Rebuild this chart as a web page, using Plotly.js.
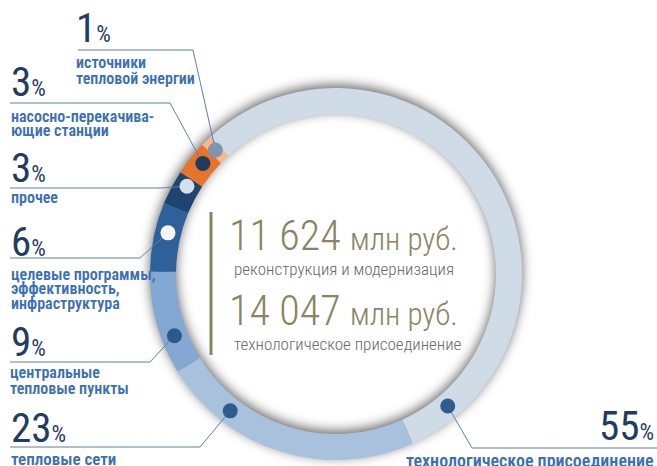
<!DOCTYPE html>
<html>
<head>
<meta charset="utf-8">
<script src="https://cdn.plot.ly/plotly-3.0.1.min.js"></script>
<style>
  html, body { margin: 0; padding: 0; background: #fff; }
  #chart { width: 657px; height: 466px; }
  .pielayer .trace { filter: drop-shadow(0px -3px 6px rgba(0,0,0,0.6)); }
  svg text, svg tspan { font-stretch: 75%; }
</style>
</head>
<body>
<div id="chart"></div>
<script>
// ---- data ----
const categories = [
  'технологическое присоединение',
  'тепловые сети',
  'центральные тепловые пункты',
  'целевые программы, эффективность, инфраструктура',
  'прочее',
  'насосно-перекачивающие станции',
  'источники тепловой энергии'
];
const shares = [55, 23, 9, 6, 3, 3, 1];
const labelLines = [
  ['технологическое присоединение'],
  ['тепловые сети'],
  ['центральные', 'тепловые пункты'],
  ['целевые программы,', 'эффективность,', 'инфраструктура'],
  ['прочее'],
  ['насосно-перекачива-', 'ющие станции'],
  ['источники', 'тепловой энергии']
];
const totalValues = ['11 624', '14 047'];
const totalUnit = 'млн руб.';
const totalLabels = ['реконструкция и модернизация', 'технологическое присоединение'];

// ---- styles / layout ----
const W = 657, H = 466;
const FONT = 'Roboto, "Open Sans", sans-serif';
const sliceColors = ['#cfdce8', '#a8c1dc', '#82a8d3', '#2e6199', '#1e4471', '#e8732a', '#f6b88c'];
const dotColors   = ['#2f5c8c', '#2f5c8c', '#2c598a', '#f4f6f9', '#d3dfea', '#1f3b60', '#7d96b1'];
const dotFrac     = [0.92, 0.75, 0.33, 0.6, 0.75, 0.6, 0.5];
const rotation = -42.4;
const hole = 0.86;
const dom = {x: [150 / W, 522 / W], y: [1 - 460 / H, 1 - 88 / H]};

// label placement (pixel space)
const numPos = [ // x, cap-centre y, anchor
  [655, 426, 'right'], [10, 427.5, 'left'], [10, 341.5, 'left'], [10, 242, 'left'],
  [10, 167.5, 'left'], [10, 82.5, 'left'], [75, 28, 'left']
];
const linePos = [ // x, first line centre y, line step, font size
  [655, 460.5, 15, 18], [10, 458.5, 15, 17], [9, 372, 16, 16], [10, 274, 14.7, 16],
  [10, 198, 15, 16], [10, 116, 14.5, 16], [75, 62, 16, 16]
];
const elbows = [ // start point, elbow point
  [[657, 448], [472, 448]], [[10, 447], [200, 447]], [[10, 362], [150, 362]],
  [[10, 258], [140, 258]], [[10, 188], [160, 188]], [[10, 103], [170, 103]],
  [[78, 50], [193, 50]]
];

const px = x => x / W, py = y => 1 - y / H;

// geometry derived from pie domain
const cx = (dom.x[0] + dom.x[1]) / 2 * W;
const cy = (1 - (dom.y[0] + dom.y[1]) / 2) * H;
const R = Math.min((dom.x[1] - dom.x[0]) * W, (dom.y[1] - dom.y[0]) * H) / 2;
const rMid = R * (1 + hole) / 2;
const total = shares.reduce((a, b) => a + b, 0);

const shapes = [];
const annotations = [];
let cum = 0;
shares.forEach((v, i) => {
  const a0 = rotation + cum / total * 360;
  const a1 = rotation + (cum + v) / total * 360;
  cum += v;
  const ang = (a0 + (a1 - a0) * dotFrac[i]) * Math.PI / 180;
  const dx = cx + rMid * Math.sin(ang);
  const dy = cy - rMid * Math.cos(ang);
  const [s, e] = elbows[i];
  shapes.push({
    type: 'path', xref: 'x', yref: 'y', layer: 'above',
    path: `M${s[0]},${s[1]} L${e[0]},${e[1]} L${dx},${dy}`,
    line: {color: '#5f7fa6', width: 1}
  });
  shapes.push({
    type: 'circle', xref: 'x', yref: 'y', layer: 'above',
    x0: dx - 7.5, x1: dx + 7.5, y0: dy - 7.5, y1: dy + 7.5,
    fillcolor: dotColors[i], line: {width: 0}
  });
  const [nx, ny, anc] = numPos[i];
  annotations.push({
    xref: 'paper', yref: 'paper', x: px(nx), y: py(ny), xanchor: anc, yanchor: 'middle',
    showarrow: false, borderpad: 0,
    text: `${v}<span style="font-size:23px">%</span>`,
    font: {family: FONT, size: 41, color: '#1f3d63', weight: 400}
  });
  const [lx, ly, step, fs] = linePos[i];
  labelLines[i].forEach((t, k) => {
    annotations.push({
      xref: 'paper', yref: 'paper', x: px(lx), y: py(ly + k * step), xanchor: anc, yanchor: 'middle',
      showarrow: false, borderpad: 0, text: t,
      font: {family: FONT, size: fs, color: '#3b6fb6', weight: 600}
    });
  });
});

// centre block
shapes.push({type: 'line', xref: 'x', yref: 'y', x0: 211, x1: 211, y0: 212, y1: 355,
  line: {color: '#8a8360', width: 3}, layer: 'above'});
const totY = [[235, 270], [310, 345]];
totalValues.forEach((t, i) => {
  annotations.push({
    xref: 'paper', yref: 'paper', x: px(228), y: py(totY[i][0]), xanchor: 'left', yanchor: 'middle',
    showarrow: false, borderpad: 0,
    text: `${t} <span style="font-size:31px">${totalUnit}</span>`,
    font: {family: FONT, size: 42, color: '#8b8460', weight: 300}
  });
  annotations.push({
    xref: 'paper', yref: 'paper', x: px(233), y: py(totY[i][1] - 1), xanchor: 'left', yanchor: 'middle',
    showarrow: false, borderpad: 0, text: totalLabels[i],
    font: {family: FONT, size: 17, color: '#6b6963', weight: 300}
  });
});

const data = [
  {type: 'scatter', x: [], y: [], xaxis: 'x', yaxis: 'y', showlegend: false, hoverinfo: 'skip'},
  {
    type: 'pie', labels: categories, values: shares, sort: false, direction: 'clockwise',
    rotation: rotation, hole: hole, textinfo: 'none', domain: dom,
    marker: {colors: sliceColors, line: {width: 0}}, showlegend: false, hoverinfo: 'label+percent'
  }
];
const layout = {
  width: W, height: H, margin: {l: 0, r: 0, t: 0, b: 0},
  paper_bgcolor: '#ffffff', plot_bgcolor: 'rgba(0,0,0,0)', showlegend: false,
  xaxis: {range: [0, W], visible: false, fixedrange: true, domain: [0, 1]},
  yaxis: {range: [H, 0], visible: false, fixedrange: true, domain: [0, 1]},
  shapes: shapes, annotations: annotations
};
Plotly.newPlot('chart', data, layout, {displayModeBar: false, staticPlot: true});
</script>
</body>
</html>
